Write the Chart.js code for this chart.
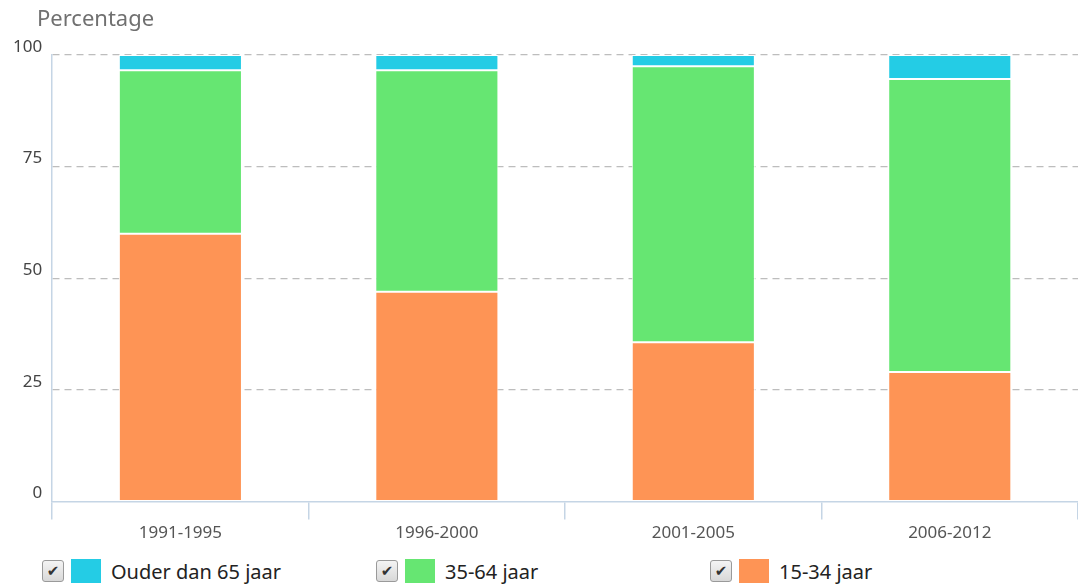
<!DOCTYPE html>
<html lang="nl">
<head>
    <meta charset="UTF-8">
    <title>Percentage per leeftijdsgroep</title>
    <script src="https://cdn.jsdelivr.net/npm/chart.js"></script>
    <style>
        body { margin: 0; background: #fff; font-family: "Noto Sans", sans-serif; }
        #wrap { position: relative; width: 1078px; height: 586px; overflow: hidden; }
        #ytitle { position: absolute; left: 37px; top: 2px; font-size: 22px; color: #707070; }
        #chartBox { position: absolute; left: 0; top: 0; width: 1078px; height: 552px; }
        .leg { position: absolute; top: 559px; height: 24px; display: flex; align-items: center; font-size: 20px; color: #222; }
        .chk { width: 22px; height: 22px; box-sizing: border-box; border: 1px solid #9a9a9a; border-radius: 3px;
               background: linear-gradient(#f4f4f4, #d8d8d8); font-family: "DejaVu Sans"; font-size: 15px; line-height: 20px;
               text-align: center; color: #333; }
        .sw { width: 30px; height: 24px; margin-left: 7px; margin-right: 10px; }
    </style>
</head>
<body>
<div id="wrap">
    <div id="chartBox"><canvas id="chart"></canvas></div>
    <div id="ytitle">Percentage</div>
    <div id="legend"></div>
</div>
<script>
    const periods = ['1991-1995', '1996-2000', '2001-2005', '2006-2012'];
    const seriesNames = ['Ouder dan 65 jaar', '35-64 jaar', '15-34 jaar'];
    const ouder65 = [3.4, 3.4, 2.5, 5.4];
    const jaar35_64 = [36.6, 49.6, 61.8, 65.6];
    const jaar15_34 = [60.0, 47.0, 35.7, 29.0];
    const colors = ['#24cce5', '#66e672', '#fe9455'];
    const yTicks = [0, 25, 50, 75, 100];

    const axisColor = '#c5d5e5';

    // stacking order: bottom first
    const datasets = [
        { label: seriesNames[2], data: jaar15_34, backgroundColor: colors[2] },
        { label: seriesNames[1], data: jaar35_64, backgroundColor: colors[1] },
        { label: seriesNames[0], data: ouder65, backgroundColor: colors[0] }
    ].map(d => ({ ...d, borderColor: '#ffffff', borderWidth: 1, borderSkipped: false,
                   categoryPercentage: 1.0, barPercentage: 0.48 }));

    new Chart(document.getElementById('chart'), {
        type: 'bar',
        data: { labels: periods, datasets: datasets },
        options: {
            responsive: true,
            maintainAspectRatio: false,
            animation: false,
            layout: { padding: { top: 55, right: 0, left: 3, bottom: 6 } },
            plugins: { legend: { display: false }, tooltip: { enabled: false } },
            scales: {
                x: {
                    stacked: true,
                    grid: { offset: true, drawOnChartArea: false, drawTicks: true, tickLength: 18, color: axisColor, lineWidth: 1.5 },
                    border: { color: axisColor, width: 1.5 },
                    ticks: { color: '#555', font: { family: 'Noto Sans', size: 17 }, padding: 3 }
                },
                y: {
                    stacked: true,
                    min: 0, max: 100,
                    afterBuildTicks: axis => { axis.ticks = yTicks.map(v => ({ value: v })); },
                    grid: {
                        drawTicks: false,
                        color: ctx => ctx.tick && ctx.tick.value === 0 ? 'rgba(0,0,0,0)' : '#bdbdbd',
                        lineWidth: 1.2
                    },
                    border: { color: axisColor, width: 1.5, dash: [7, 5] },
                    ticks: { color: '#444', font: { family: 'Noto Sans', size: 17 }, padding: 10, labelOffset: -8 }
                }
            }
        }
    });

    const legend = document.getElementById('legend');
    const legX = [42, 376, 710];
    seriesNames.forEach((name, i) => {
        const el = document.createElement('div');
        el.className = 'leg';
        el.style.left = legX[i] + 'px';
        el.innerHTML = '<span class="chk">✔</span><span class="sw" style="background:' + colors[i] + '"></span><span>' + name + '</span>';
        legend.appendChild(el);
    });
</script>
</body>
</html>
